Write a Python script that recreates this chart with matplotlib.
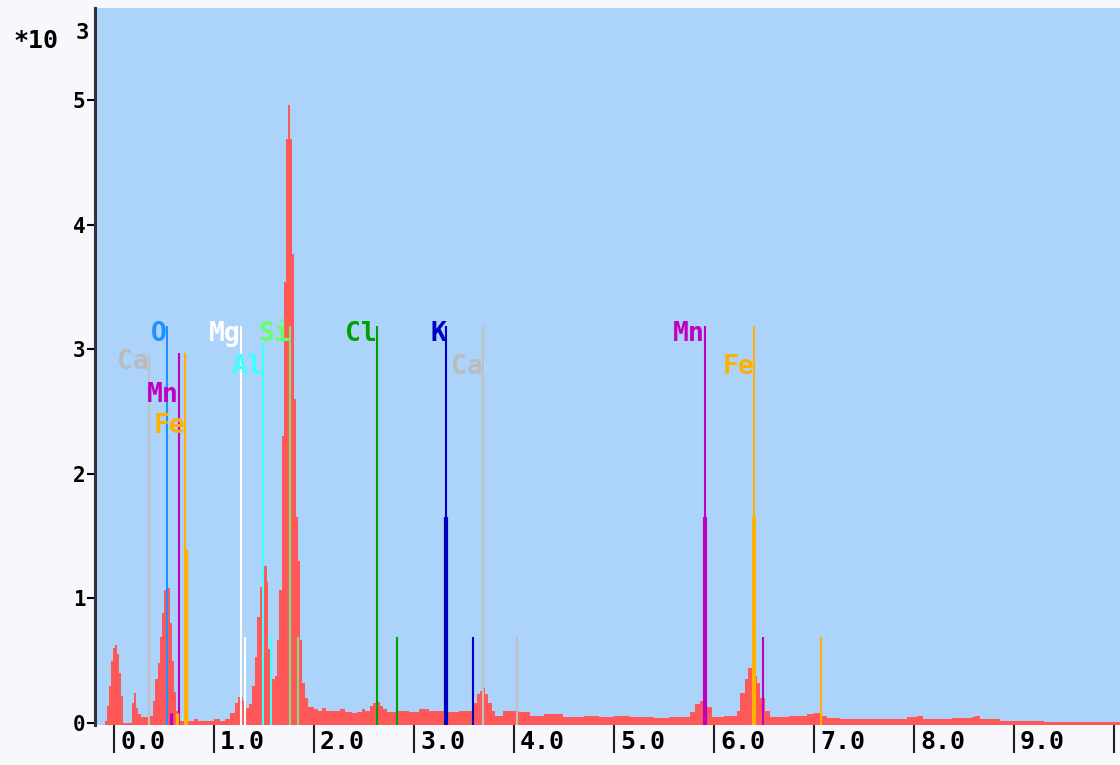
import matplotlib
matplotlib.use("Agg")
import matplotlib.pyplot as plt

# spectrum: bin start energies (keV) and counts (x1000)
bin_starts = [
    -0.09, -0.07, -0.05, -0.03, -0.01, 0.01, 0.03, 0.05, 0.07, 0.09,
    0.18, 0.20, 0.22, 0.24, 0.27, 0.34,
    0.39, 0.41, 0.44, 0.46, 0.48, 0.50, 0.52, 0.54, 0.56, 0.58, 0.60, 0.62, 0.64, 0.66,
    0.80, 0.84, 1.00, 1.06,
    1.11, 1.16, 1.21, 1.24, 1.29, 1.32, 1.35, 1.38, 1.41, 1.43, 1.46, 1.48, 1.50, 1.53,
    1.54, 1.56, 1.58, 1.61, 1.63, 1.65, 1.68, 1.70, 1.72, 1.74, 1.76, 1.78, 1.80, 1.82,
    1.84, 1.86, 1.88, 1.91, 1.94, 2.00, 2.04, 2.08, 2.12,
    2.16, 2.26, 2.31, 2.38, 2.43, 2.48, 2.51, 2.56, 2.59, 2.62, 2.66, 2.69, 2.73, 2.83,
    2.95, 3.05, 3.15, 3.30, 3.45, 3.59, 3.63, 3.66, 3.69, 3.71, 3.74, 3.78, 3.81, 3.89,
    4.05, 4.16, 4.30, 4.49, 4.70, 4.85, 5.00, 5.16, 5.40, 5.55,
    5.76, 5.81, 5.86, 5.93, 5.98, 6.10,
    6.23, 6.26, 6.31, 6.34, 6.39, 6.43, 6.46, 6.51, 6.56, 6.75, 6.93, 7.00, 7.06, 7.13,
    7.26, 7.93, 8.03, 8.09, 8.38, 8.58, 8.61, 8.66, 8.86, 9.30,
]
bin_end = 10.1
counts = [
    0.02, 0.14, 0.30, 0.50, 0.60, 0.63, 0.55, 0.40, 0.22, 0.00,
    0.16, 0.24, 0.12, 0.07, 0.05, 0.06,
    0.18, 0.35, 0.48, 0.69, 0.88, 1.07, 1.15, 1.08, 0.80, 0.50, 0.25, 0.10, 0.04, 0.02,
    0.03, 0.02, 0.03, 0.02,
    0.03, 0.08, 0.16, 0.21, 0.18, 0.12, 0.15, 0.30, 0.53, 0.85, 1.09, 1.28, 1.26, 1.13,
    0.59, 0.42, 0.35, 0.38, 0.67, 1.07, 2.30, 3.54, 4.69, 4.96, 4.69, 3.76, 2.60, 1.65,
    1.30, 0.67, 0.32, 0.20, 0.13, 0.11, 0.10, 0.12, 0.10,
    0.10, 0.11, 0.09, 0.08, 0.09, 0.11, 0.10, 0.14, 0.16, 0.17, 0.14, 0.11, 0.09, 0.10,
    0.09, 0.11, 0.10, 0.09, 0.10, 0.16, 0.23, 0.26, 0.28, 0.23, 0.16, 0.10, 0.06, 0.10,
    0.09, 0.06, 0.07, 0.05, 0.06, 0.05, 0.06, 0.05, 0.04, 0.05,
    0.09, 0.15, 0.18, 0.13, 0.05, 0.06,
    0.10, 0.24, 0.35, 0.44, 0.38, 0.32, 0.20, 0.10, 0.05, 0.06, 0.07, 0.08, 0.06, 0.04,
    0.03, 0.05, 0.06, 0.03, 0.04, 0.05, 0.06, 0.03, 0.02, 0.01,
]

# element marker lines: energy (keV), height (x1000), colour, width
line_energy = [0.35, 0.53, 0.57, 0.65, 0.63, 0.71, 0.72,
               1.27, 1.31, 1.49, 1.57, 1.76, 1.84,
               2.63, 2.83, 3.32, 3.32, 3.59, 3.69, 4.03,
               5.91, 5.91, 6.49, 6.40, 6.40, 7.07]
line_height = [2.97, 3.19, 0.08, 2.97, 0.08, 2.97, 1.40,
               3.19, 0.69, 3.05, 0.69, 3.19, 0.69,
               3.19, 0.69, 3.19, 1.65, 0.69, 3.19, 0.69,
               3.19, 1.65, 0.69, 3.19, 1.65, 0.69]
line_color = ["#c0c0c0", "#1e90ff", "#c000c0", "#c000c0", "#ffb000", "#ffb000", "#ffb000",
              "#ffffff", "#ffffff", "#40ffff", "#40ffff", "#80e080", "#80e080",
              "#00a000", "#00a000", "#0000c0", "#0000c0", "#0000c0", "#c0c0c0", "#c0c0c0",
              "#c000c0", "#c000c0", "#c000c0", "#ffb000", "#ffb000", "#ffb000"]
line_width = [1.5, 1.5, 2.5, 1.5, 2.5, 1.5, 2.5,
              1.5, 1.5, 1.5, 1.5, 1.5, 1.5,
              1.5, 1.5, 1.5, 3.0, 1.5, 1.5, 1.5,
              1.5, 3.0, 1.5, 1.5, 3.0, 1.5]

# element labels: text, energy of the line they sit against, height, colour
label_text = ["Ca", "O", "Mn", "Fe", "Mg", "Al", "Si", "Cl", "K", "Ca", "Mn", "Fe"]
label_x = [0.35, 0.53, 0.65, 0.71, 1.27, 1.49, 1.76, 2.63, 3.32, 3.69, 5.91, 6.40]
label_y = [2.90, 3.12, 2.63, 2.38, 3.12, 2.86, 3.12, 3.12, 3.12, 2.86, 3.12, 2.86]
label_color = ["#bbbbbb", "#1e90ff", "#c000c0", "#ffb000", "#ffffff", "#40ffff",
               "#66ff66", "#00a000", "#0000c0", "#bbbbbb", "#c000c0", "#ffb000"]

x_ticks = [0, 1, 2, 3, 4, 5, 6, 7, 8, 9, 10]
x_tick_labels = ["0.0", "1.0", "2.0", "3.0", "4.0", "5.0", "6.0", "7.0", "8.0", "9.0", ""]
y_ticks = [0, 1, 2, 3, 4, 5]

mono = "DejaVu Sans Mono"

fig = plt.figure(figsize=(11.2, 7.65), dpi=100, facecolor="#f8f8fc")
ax = fig.add_axes([95 / 1120, 40 / 765, 1 - 95 / 1120, (725 - 8) / 765])
ax.set_facecolor("#acd3fa")

ax.stairs(counts, bin_starts + [bin_end], fill=True, color="#ff5858", baseline=-0.02)

ax.vlines(line_energy, -0.02, line_height, colors=line_color, linewidth=line_width)

for t, x, y, c in zip(label_text, label_x, label_y, label_color):
    ax.text(x, y, t, color=c, ha="right", va="center", fontsize=19,
            fontweight="bold", family=mono)

ax.set_xlim(-0.19, 10.06)
ax.set_ylim(-0.016, 5.738)

for s in ["top", "right", "bottom"]:
    ax.spines[s].set_visible(False)
ax.spines["left"].set_color("#303040")
ax.spines["left"].set_linewidth(2.2)

ax.set_xticks(x_ticks)
ax.set_xticklabels([])
ax.tick_params(axis="x", direction="out", length=20, width=1.5, color="#202020")
for x, t in zip(x_ticks, x_tick_labels):
    ax.text(x + 0.06, -0.0237, t, transform=ax.get_xaxis_transform(),
            ha="left", va="center", fontsize=18, fontweight="bold", family=mono,
            clip_on=False)

ax.set_yticks(y_ticks)
ax.set_yticklabels([str(v) for v in y_ticks], fontsize=15, fontweight="bold", family=mono)
ax.tick_params(axis="y", direction="out", length=6, width=1.5, color="black", pad=1)

fig.text(36 / 1120, 1 - 41 / 765, "*10", ha="center", va="center", fontsize=18,
         fontweight="bold", family=mono)
fig.text(82 / 1120, 1 - 33 / 765, "3", ha="center", va="center", fontsize=16,
         fontweight="bold", family=mono)

fig.savefig("out.png", dpi=100, facecolor=fig.get_facecolor())
